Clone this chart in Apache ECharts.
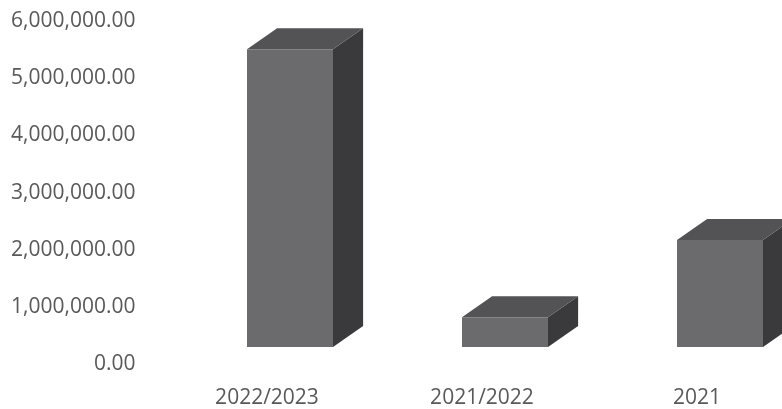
<!DOCTYPE html>
<html>
<head>
<meta charset="utf-8">
<script src="https://cdn.jsdelivr.net/npm/echarts@6/dist/echarts.min.js"></script>
<style>
  html, body { margin: 0; padding: 0; background: #ffffff; overflow: hidden; }
  #chart { width: 806px; height: 409px; }
</style>
</head>
<body>
<div id="chart"></div>
<script>
// Periods shown along the horizontal axis
const categories = ['2022/2023', '2021/2022', '2021'];
// Amount per period
const amounts = [5200000, 520000, 1870000];
// Value axis range
const axisMax = 6000000;
const axisStep = 1000000;

function formatAmount(v) {
  const fixed = Math.abs(v).toFixed(2);
  const parts = fixed.split('.');
  const intPart = parts[0].replace(/\B(?=(\d{3})+(?!\d))/g, ',');
  return (v < 0 ? '-' : '') + intPart + '.' + parts[1];
}

const FRONT = '#6b6b6d';
const TOP = '#535356';
const SIDE = '#3a3a3d';

// Draws one box-shaped column: front face, top face and right side face
function renderBox(params, api) {
  const cat = api.value(0);
  const val = api.value(1);
  const base = api.coord([cat, 0]);
  const tip = api.coord([cat, val]);
  const band = api.size([1, 0])[0];
  const w = band * 0.40;          // front face width
  const shift = band * 0.107;     // box sits back from the floor edge
  const dx = band * 0.14;         // depth, horizontal
  const dy = 21;                  // depth, vertical
  const lift = 17.5;
  const x0 = base[0] + shift - w / 2;
  const x1 = x0 + w;
  const yb = base[1] - lift;
  const yt = tip[1] - lift;
  return {
    type: 'group',
    children: [
      {
        type: 'polygon',
        shape: { points: [[x1, yt], [x1 + dx, yt - dy], [x1 + dx, yb - dy], [x1, yb]] },
        style: { fill: SIDE }
      },
      {
        type: 'polygon',
        shape: { points: [[x0, yt], [x1, yt], [x1 + dx, yt - dy], [x0 + dx, yt - dy]] },
        style: { fill: TOP }
      },
      {
        type: 'rect',
        shape: { x: x0, y: yt, width: w, height: yb - yt },
        style: { fill: FRONT }
      }
    ]
  };
}

const chart = echarts.init(document.getElementById('chart'), null, { renderer: 'canvas' });
chart.setOption({
  animation: false,
  backgroundColor: '#ffffff',
  grid: { left: 159.5, top: 21, right: 1.5, bottom: 44.5 },
  xAxis: {
    type: 'category',
    data: categories,
    axisLine: { show: false },
    axisTick: { show: false },
    axisLabel: {
      margin: 23,
      color: '#595959',
      fontFamily: 'Open Sans',
      fontSize: 21
    }
  },
  yAxis: {
    type: 'value',
    min: 0,
    max: axisMax,
    interval: axisStep,
    splitLine: { show: false },
    axisLine: { show: false },
    axisTick: { show: false },
    axisLabel: {
      margin: 24,
      color: '#595959',
      fontFamily: 'Open Sans',
      fontSize: 21,
      formatter: formatAmount
    }
  },
  series: [{
    type: 'custom',
    renderItem: renderBox,
    data: amounts.map((v, i) => [i, v]),
    encode: { x: 0, y: 1 }
  }]
});
</script>
</body>
</html>
